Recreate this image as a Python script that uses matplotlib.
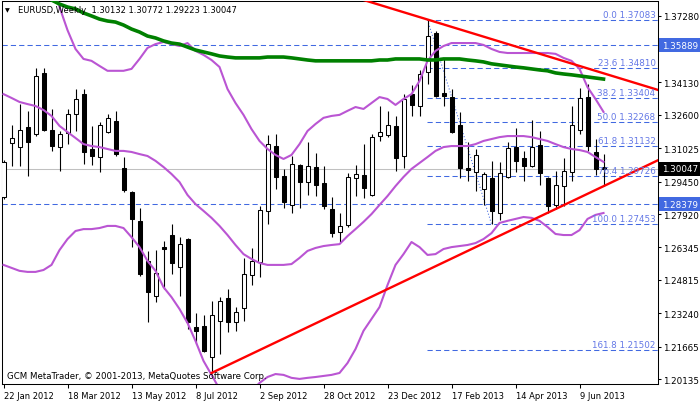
import matplotlib
matplotlib.use('Agg')
import matplotlib.pyplot as plt
import matplotlib.transforms as mtransforms
import numpy as np

plt.rcParams['font.family'] = ['DejaVu Sans']
plt.rcParams['font.size'] = 6.3

nan = np.nan

# ---------------- data (weekly EURUSD) ----------------
opens = [1.2872, 1.3127, 1.3108, 1.3203, 1.3169, 1.3458, 1.3188, 1.3108, 1.3174, 1.3264,
         1.3358, 1.3099, 1.3061, 1.3179, 1.3232, 1.3010, 1.2896, 1.2760, 1.2571, 1.2405,
         1.2636, 1.2693, 1.2542, 1.2674, 1.2259, 1.2264, 1.2117, 1.2288, 1.2396, 1.2283,
         1.2349, 1.2505, 1.2566, 1.2807, 1.3113, 1.2972, 1.2835, 1.3024, 1.2943, 1.3014,
         1.2938, 1.2816, 1.2707, 1.2741, 1.2962, 1.2976, 1.2882, 1.3160, 1.3165, 1.3208,
         1.3066, 1.3358, 1.3302, 1.3463, 1.3646, 1.3363, 1.3344, 1.3213, 1.3010, 1.2991,
         1.2910, 1.2962, 1.2797, 1.2967, 1.3108, 1.3057, 1.3019, 1.3118, 1.2962, 1.2835,
         1.2924, 1.2991, 1.3188, 1.3344, 1.3085, 1.30132]
highs = [1.3045, 1.3213, 1.3311, 1.3279, 1.3482, 1.3482, 1.3288, 1.3184, 1.3288, 1.3382,
         1.3382, 1.3208, 1.3227, 1.3264, 1.3279, 1.3061, 1.2900, 1.2821, 1.2618, 1.2622,
         1.2665, 1.2745, 1.2683, 1.2680, 1.2325, 1.2316, 1.2382, 1.2400, 1.2438, 1.2353,
         1.2585, 1.2632, 1.2830, 1.3165, 1.3169, 1.3005, 1.3066, 1.3030, 1.3132, 1.3080,
         1.3019, 1.2872, 1.2797, 1.2986, 1.3024, 1.3122, 1.3169, 1.3302, 1.3279, 1.3255,
         1.3358, 1.3401, 1.3472, 1.37083, 1.3655, 1.3524, 1.3382, 1.3274, 1.3132, 1.3099,
         1.2991, 1.3043, 1.3038, 1.3132, 1.3199, 1.3090, 1.3236, 1.3184, 1.2967, 1.2996,
         1.3057, 1.3302, 1.3387, 1.3405, 1.3146, 1.30772]
lows = [1.2865, 1.3019, 1.3019, 1.2972, 1.3160, 1.3185, 1.3090, 1.2996, 1.3122, 1.3184,
        1.3028, 1.3024, 1.2991, 1.3175, 1.3066, 1.2896, 1.2636, 1.2500, 1.2283, 1.2377,
        1.2438, 1.2509, 1.2405, 1.2250, 1.2178, 1.2141, 1.2042, 1.2131, 1.2236, 1.2241,
        1.2288, 1.2457, 1.2495, 1.2745, 1.2910, 1.2821, 1.2797, 1.2821, 1.2882, 1.2877,
        1.2816, 1.2683, 1.2660, 1.2731, 1.2877, 1.2868, 1.2877, 1.3137, 1.3155, 1.2996,
        1.3010, 1.3255, 1.3255, 1.3405, 1.3345, 1.3302, 1.3175, 1.2962, 1.2948, 1.2901,
        1.2835, 1.27453, 1.2764, 1.2962, 1.2991, 1.2948, 1.3015, 1.2929, 1.2797, 1.2816,
        1.2830, 1.2948, 1.3169, 1.3090, 1.2976, 1.29223]
closes = [1.3038, 1.3151, 1.3188, 1.3132, 1.3444, 1.3188, 1.3113, 1.3169, 1.3264, 1.3335,
          1.3085, 1.3066, 1.3213, 1.3246, 1.3075, 1.2905, 1.2769, 1.2509, 1.2424, 1.2514,
          1.2627, 1.2561, 1.2650, 1.2283, 1.2241, 1.2146, 1.2316, 1.2382, 1.2283, 1.2330,
          1.2509, 1.2571, 1.2811, 1.3122, 1.2967, 1.2849, 1.3028, 1.2943, 1.3019, 1.2929,
          1.2830, 1.2702, 1.2736, 1.2967, 1.2981, 1.2915, 1.3155, 1.3179, 1.3213, 1.3057,
          1.3335, 1.3307, 1.3453, 1.3632, 1.3349, 1.3349, 1.3179, 1.3010, 1.3000, 1.3071,
          1.2981, 1.2807, 1.2986, 1.3104, 1.3043, 1.3019, 1.3108, 1.2986, 1.2830, 1.2929,
          1.2996, 1.3213, 1.3340, 1.3113, 1.3005, 1.30047]

bb_upper = [nan, nan, nan, nan, nan, nan,
            1.3864, 1.3769, 1.3660, 1.3571, 1.3524, 1.3515, 1.3491, 1.3468, 1.3468, 1.3468,
            1.3477, 1.3524, 1.3576, 1.3594, 1.3604, 1.3594, 1.3585, 1.3599, 1.3562, 1.3543,
            1.3519, 1.3486, 1.3382, 1.3316, 1.3260, 1.3193, 1.3137, 1.3099, 1.3071, 1.3052,
            1.3071, 1.3122, 1.3184, 1.3217, 1.3246, 1.3255, 1.3260, 1.3279, 1.3297, 1.3288,
            1.3316, 1.3344, 1.3335, 1.3307, 1.3335, 1.3358, 1.3420, 1.3515, 1.3562, 1.3585,
            1.3599, 1.3599, 1.3599, 1.3599, 1.3590, 1.3571, 1.3557, 1.3552, 1.3552, 1.3552,
            1.3552, 1.3552, 1.3552, 1.3548, 1.3529, 1.3515, 1.3477, 1.3391, 1.3335, 1.3274]
bb_middle = [1.3358, 1.3340, 1.3321, 1.3311, 1.3302, 1.3283, 1.3255, 1.3208, 1.3179, 1.3151,
             1.3122, 1.3113, 1.3108, 1.3099, 1.3090, 1.3090, 1.3085, 1.3075, 1.3066, 1.3043,
             1.3014, 1.2981, 1.2943, 1.2882, 1.2839, 1.2807, 1.2774, 1.2736, 1.2693, 1.2646,
             1.2603, 1.2580, 1.2561, 1.2552, 1.2552, 1.2552, 1.2556, 1.2585, 1.2618, 1.2632,
             1.2641, 1.2646, 1.2650, 1.2688, 1.2721, 1.2755, 1.2792, 1.2835, 1.2877, 1.2924,
             1.2967, 1.3005, 1.3033, 1.3061, 1.3090, 1.3108, 1.3113, 1.3113, 1.3113, 1.3122,
             1.3137, 1.3146, 1.3155, 1.3160, 1.3160, 1.3160, 1.3155, 1.3146, 1.3137, 1.3122,
             1.3108, 1.3099, 1.3094, 1.3085, 1.3061, 1.3038]
bb_lower = [1.2552, 1.2538, 1.2524, 1.2519, 1.2519, 1.2528, 1.2552, 1.2622, 1.2674, 1.2712,
            1.2721, 1.2721, 1.2726, 1.2736, 1.2736, 1.2726, 1.2683, 1.2636, 1.2571, 1.2524,
            1.2447, 1.2400, 1.2344, 1.2278, 1.2193, 1.2099, 1.2033, 1.1967, 1.1920, 1.1896,
            1.1920, 1.1957, 1.1995, 1.2023, 1.2037, 1.2033, 1.2019, 1.2014, 1.2019, 1.2023,
            1.2028, 1.2033, 1.2042, 1.2089, 1.2155, 1.2241, 1.2297, 1.2353, 1.2457, 1.2552,
            1.2603, 1.2660, 1.2636, 1.2599, 1.2603, 1.2627, 1.2636, 1.2641, 1.2646, 1.2655,
            1.2674, 1.2702, 1.2750, 1.2760, 1.2769, 1.2778, 1.2774, 1.2760, 1.2731, 1.2698,
            1.2693, 1.2693, 1.2716, 1.2769, 1.2788, 1.2797]
ma_green = [nan, nan, nan, nan,
            1.3840, 1.3821, 1.3802, 1.3783, 1.3769, 1.3760,
            1.3741, 1.3727, 1.3712, 1.3703, 1.3698, 1.3684, 1.3665, 1.3651, 1.3632, 1.3623,
            1.3609, 1.3599, 1.3594, 1.3580, 1.3566, 1.3557, 1.3548, 1.3538, 1.3533, 1.3529,
            1.3529, 1.3529, 1.3529, 1.3533, 1.3533, 1.3533, 1.3529, 1.3524, 1.3519, 1.3515,
            1.3515, 1.3515, 1.3515, 1.3515, 1.3515, 1.3515, 1.3515, 1.3519, 1.3519, 1.3524,
            1.3524, 1.3524, 1.3524, 1.3519, 1.3519, 1.3524, 1.3524, 1.3524, 1.3519, 1.3515,
            1.3510, 1.3501, 1.3496, 1.3491, 1.3486, 1.3482, 1.3477, 1.3472, 1.3468, 1.3458,
            1.3453, 1.3449, 1.3444, 1.3439, 1.3434, 1.3429]

# trend lines: (bar index, price) anchors
resist_pts = [(53, 1.3710), (81.7, 1.3379)]
support_pts = [(26, 1.2042), (81.7, 1.3044)]

# fibonacci retracement
fib_pcts = ['0.0', '23.6', '38.2', '50.0', '61.8', '76.4', '100.0', '161.8']
fib_prices = [1.37083, 1.34810, 1.33404, 1.32268, 1.31132, 1.29726, 1.27453, 1.21502]
fib_anchor_hi = (53, 1.37083)
fib_anchor_lo = (61, 1.27453)

blue_levels = [1.35889, 1.28379]
last_price = 1.30047

x_tick_idx = [0, 8, 16, 24, 32, 40, 48, 56, 64, 72]
x_tick_labels = ['22 Jan 2012', '18 Mar 2012', '13 May 2012', '8 Jul 2012', '2 Sep 2012',
                 '28 Oct 2012', '23 Dec 2012', '17 Feb 2013', '14 Apr 2013', '9 Jun 2013']
y_ticks = [1.37280, 1.35705, 1.34130, 1.32600, 1.31025, 1.29450, 1.27920, 1.26345,
           1.24815, 1.23240, 1.21665, 1.20135]
y_hidden = [1.35705]  # covered by the 1.35889 price box in the reference

# ---------------- figure ----------------
W, H = 700, 402
fig = plt.figure(figsize=(W / 100, H / 100), dpi=100)
fig.patch.set_facecolor('white')
ax = fig.add_axes([2 / W, 1 - 385 / H, 656 / W, 383 / H])
ax.set_facecolor('white')

xmin, xmax = -0.1875, 81.81
ymin, ymax = 1.19900, 1.37974
ax.set_xlim(xmin, xmax)
ax.set_ylim(ymin, ymax)

n = len(opens)
x = np.arange(n)
o = np.array(opens); c = np.array(closes); hi = np.array(highs); lo = np.array(lows)

ROYAL = '#4169E1'
LBL = '#6478e6'

# background horizontal lines
ax.axhline(last_price, color='#c0c0c0', lw=0.75, zorder=1)
for lv in blue_levels:
    ax.axhline(lv, color=ROYAL, lw=0.75, dashes=(5, 3), zorder=1)
ax.hlines(fib_prices, fib_anchor_hi[0] - 0.1, xmax, color=ROYAL, lw=0.75,
          linestyles=(0, (5, 3)), zorder=1)
ax.plot([fib_anchor_hi[0], fib_anchor_lo[0]], [fib_anchor_hi[1], fib_anchor_lo[1]],
        color=ROYAL, lw=0.75, dashes=(1, 2), zorder=1)

# candles
ax.vlines(x, lo, hi, color='black', lw=0.8, zorder=2)
bull = c >= o
body_bot = np.minimum(o, c)
body_h = np.abs(c - o)
ax.bar(x[bull], body_h[bull], bottom=body_bot[bull], width=0.5, color='white',
       edgecolor='black', linewidth=0.75, zorder=3)
ax.bar(x[~bull], body_h[~bull], bottom=body_bot[~bull], width=0.5, color='black',
       edgecolor='black', linewidth=0.75, zorder=3)

# indicators
PURPLE = '#ba55d3'
for series in (bb_upper, bb_middle, bb_lower):
    ax.plot(x, series, color=PURPLE, lw=1.5, zorder=4, solid_joinstyle='round')
ax.plot(x, ma_green, color='#008000', lw=2.6, zorder=4)

# trend lines
for pts, xstart in ((resist_pts, 44.0), (support_pts, support_pts[0][0])):
    (x0, y0), (x1, y1) = pts
    slope = (y1 - y0) / (x1 - x0)
    xs = np.array([xstart, xmax])
    ax.plot(xs, y0 + slope * (xs - x0), color='#ff0000', lw=1.7, zorder=5)

# fibonacci labels
bt = mtransforms.blended_transform_factory(ax.transAxes, ax.transData)
for pct, pr in zip(fib_pcts, fib_prices):
    ax.text(1 - 2.5 / 656, pr + 0.0003, f'{pct} {pr:.5f}', transform=bt, ha='right',
            va='bottom', color=LBL, zorder=6)

# axes styling
for s in ax.spines.values():
    s.set_color('black')
    s.set_linewidth(0.75)
ax.yaxis.tick_right()
ax.set_yticks(y_ticks)
ax.set_yticklabels(['' if v in y_hidden else f'{v:.5f}' for v in y_ticks])
ax.set_xticks(x_tick_idx)
ax.set_xticklabels(x_tick_labels, fontsize=6.0)
for lbl in ax.get_xticklabels():
    lbl.set_horizontalalignment('left')
ax.tick_params(axis='y', direction='out', length=2.5, width=0.75, color='black',
               labelcolor='black', pad=1.2)
ax.tick_params(axis='x', direction='out', length=3, width=0.75, color='black',
               labelcolor='black', pad=2.0)

# price boxes on the axis
def price_box(val, fc):
    ax.text(1 + 4 / 656, val, f'{val:.5f}', transform=bt, ha='left', va='center',
            color='white', zorder=10, clip_on=False,
            bbox=dict(boxstyle='square,pad=0.3', fc=fc, ec='none'))

price_box(blue_levels[0], ROYAL)
price_box(blue_levels[1], ROYAL)
price_box(last_price, 'black')

# header / footer
fig.text(5 / W, 1 - 10.5 / H, '\u25bc', fontsize=4.5, va='center', ha='left', color='black')
fig.text(18 / W, 1 - 10.5 / H,
         'EURUSD,Weekly  1.30132 1.30772 1.29223 1.30047', va='center', ha='left',
         color='black', fontsize=6.05)
fig.text(7 / W, 1 - 376.5 / H,
         'GCM MetaTrader, \u00a9 2001-2013, MetaQuotes Software Corp.', va='center',
         ha='left', color='black', fontsize=6.2)

fig.savefig('out.png', dpi=100, facecolor='white')
